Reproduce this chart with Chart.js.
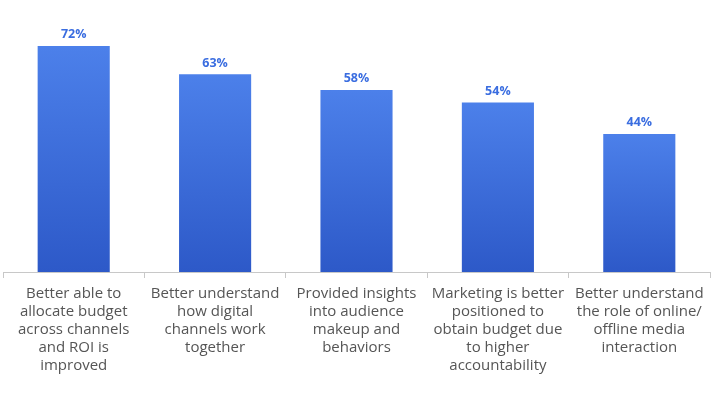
<!DOCTYPE html>
<html>
<head>
<meta charset="utf-8">
<script src="https://cdn.jsdelivr.net/npm/chart.js@4/dist/chart.umd.min.js"></script>
<style>
  html, body { margin: 0; padding: 0; background: #fff; }
  #wrap { width: 725px; height: 397px; }
</style>
</head>
<body>
<div id="wrap"><canvas id="myChart"></canvas></div>
<script>
const categories = [
    ['Better able to', 'allocate budget', 'across channels', 'and ROI is', 'improved'],
    ['Better understand', 'how digital', 'channels work', 'together'],
    ['Provided insights', 'into audience', 'makeup and', 'behaviors'],
    ['Marketing is better', 'positioned to', 'obtain budget due', 'to higher', 'accountability'],
    ['Better understand', 'the role of online/', 'offline media', 'interaction']
];
const values = [72, 63, 58, 54, 44];

// etiquetas encima de cada barra
const valueLabels = {
    id: 'valueLabels',
    afterDatasetsDraw(chart) {
        const ctx = chart.ctx;
        const meta = chart.getDatasetMeta(0);
        ctx.save();
        ctx.font = 'bold 12.5px "Open Sans"';
        ctx.fillStyle = '#3a6de0';
        ctx.textAlign = 'center';
        ctx.textBaseline = 'bottom';
        meta.data.forEach((bar, i) => {
            ctx.fillText(values[i] + '%', bar.x, bar.y - 5);
        });
        ctx.restore();
    }
};

function barGradient(context) {
    const chart = context.chart;
    const area = chart.chartArea;
    if (!area) return '#4172e0';
    const yScale = chart.scales.y;
    const top = yScale.getPixelForValue(context.raw);
    const bottom = yScale.getPixelForValue(0);
    const g = chart.ctx.createLinearGradient(0, top, 0, bottom);
    g.addColorStop(0, '#4c80ea');
    g.addColorStop(1, '#2d59c8');
    return g;
}

document.addEventListener('DOMContentLoaded', function () {
    const ctx = document.getElementById('myChart').getContext('2d');
    new Chart(ctx, {
        type: 'bar',
        data: {
            labels: categories,
            datasets: [{
                data: values,
                backgroundColor: barGradient,
                borderWidth: 0,
                barPercentage: 0.51,
                categoryPercentage: 1
            }]
        },
        options: {
            responsive: true,
            maintainAspectRatio: false,
            animation: false,
            layout: { padding: { left: 3, right: 15, top: 21, bottom: 15 } },
            plugins: {
                legend: { display: false },
                tooltip: { enabled: false }
            },
            scales: {
                y: {
                    display: false,
                    min: 0,
                    max: 80
                },
                x: {
                    grid: {
                        drawOnChartArea: false,
                        drawTicks: true,
                        tickLength: 6,
                        color: '#c8c8c8'
                    },
                    border: { display: true, color: '#c8c8c8', width: 1 },
                    ticks: {
                        color: '#555555',
                        font: { family: '"Open Sans"', size: 15, lineHeight: 1.2 },
                        padding: 7,
                        maxRotation: 0,
                        autoSkip: false
                    }
                }
            }
        },
        plugins: [valueLabels]
    });
});
</script>
</body>
</html>
